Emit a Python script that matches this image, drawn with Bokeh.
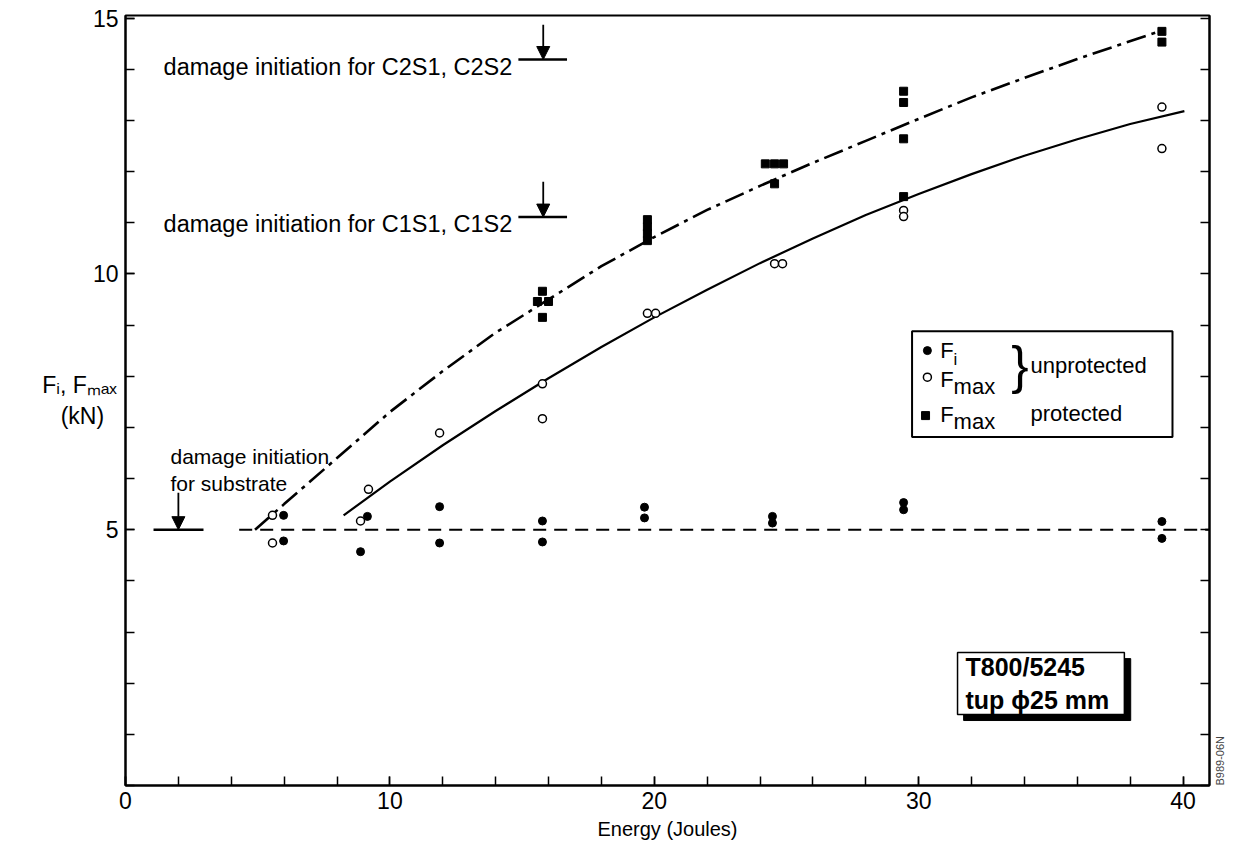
import math
from bokeh.plotting import figure
from bokeh.models import (Range1d, FixedTicker, LinearAxis, Label, BoxAnnotation,
                          Arrow, NormalHead)
from bokeh.embed import file_html
from bokeh.resources import INLINE

FONT = "Liberation Sans"

# ---------------- data ----------------
# F_i, unprotected (filled circles)
fi_energy = [5.98, 5.98, 8.89, 9.15, 11.88, 11.88, 15.77, 15.77, 19.63, 19.63,
             24.47, 24.47, 29.43, 29.43, 39.2, 39.2]
fi_force = [5.28, 4.78, 4.57, 5.26, 5.45, 4.74, 5.17, 4.76, 5.44, 5.23,
            5.26, 5.13, 5.53, 5.39, 5.16, 4.83]

# F_max, unprotected (open circles)
fmax_u_energy = [5.56, 5.56, 9.19, 8.89, 11.88, 15.77, 15.77, 19.74, 20.05,
                 24.55, 24.85, 29.43, 29.43, 39.2, 39.2]
fmax_u_force = [5.28, 4.74, 5.79, 5.17, 6.89, 7.85, 7.17, 9.23, 9.23,
                10.2, 10.2, 11.24, 11.12, 13.26, 12.45]

# F_max, protected (filled squares)
fmax_p_energy = [15.77, 15.58, 16.0, 15.77, 19.74, 19.74, 19.74, 19.74,
                 24.2, 24.55, 24.89, 24.55, 29.43, 29.43, 29.43, 29.43, 39.2, 39.2]
fmax_p_force = [9.66, 9.46, 9.46, 9.15, 11.06, 10.92, 10.79, 10.65,
                12.15, 12.15, 12.15, 11.76, 13.57, 13.35, 12.64, 11.51, 14.74, 14.53]

# fitted trend curves
curve_unprot_energy = [8.25, 10, 12, 14, 16, 18, 20, 22, 24, 26, 28, 30, 32, 34, 36, 38, 40.05]
curve_unprot_force = [5.28, 5.94, 6.65, 7.32, 7.96, 8.57, 9.15, 9.69, 10.21, 10.69,
                      11.15, 11.56, 11.95, 12.31, 12.63, 12.93, 13.18]
curve_prot_energy = [4.9, 6, 8, 10, 12, 14, 16, 18, 20, 22, 24, 26, 28, 30, 32, 34, 36, 39.1]
curve_prot_force = [5.0, 5.5, 6.4, 7.3, 8.1, 8.85, 9.5, 10.15, 10.72, 11.25, 11.72,
                    12.17, 12.6, 13.03, 13.45, 13.83, 14.2, 14.74]
threshold_energy = [4.3, 41.0]
threshold_force = [5.0, 5.0]

# axes
x_major = [0, 10, 20, 30, 40]
x_minor = list(range(0, 42, 2))
y_major = [5, 10, 15]
y_minor = list(range(0, 16))
x_title = "Energy (Joules)"
y_title = "Fᵢ, Fₘₐₓ\n(kN)\u00a0\u00a0"
figure_id = "B989-06N"

# damage-initiation annotations
annot_texts = ["damage initiation for C2S1, C2S2", "damage initiation for C1S1, C1S2"]
annot_text_x = [1.44, 1.44]
annot_text_y = [14.05, 10.97]
bar_x0 = [14.86, 14.86, 1.06]
bar_x1 = [16.7, 16.7, 2.95]
bar_y = [14.19, 11.11, 5.0]
arrow_x = [15.8, 15.8, 2.0]
arrow_top = [14.87, 11.80, 5.72]
arrow_tip = [14.19, 11.11, 5.0]
sub_texts = ["damage initiation", "for substrate"]
sub_text_x = [1.70, 1.70]
sub_text_y = [6.44, 5.91]

# ---------------- figure ----------------
p = figure(width=1237, height=852, x_range=Range1d(0, 41), y_range=Range1d(0, 15.05),
           output_backend="svg", toolbar_location=None,
           min_border_left=125, min_border_right=28, min_border_top=15, min_border_bottom=67)
p.xgrid.visible = False
p.ygrid.visible = False
p.outline_line_color = "black"
p.outline_line_width = 2
p.background_fill_color = "white"
p.border_fill_color = "white"

for ax in (p.xaxis[0], p.yaxis[0]):
    ax.axis_line_width = 2
    ax.axis_line_color = "black"
    ax.major_tick_in = 9
    ax.major_tick_out = 0
    ax.minor_tick_in = 9
    ax.minor_tick_out = 0
    ax.major_tick_line_width = 1.5
    ax.minor_tick_line_width = 1.5
    ax.major_tick_line_color = "black"
    ax.minor_tick_line_color = "black"
    ax.major_label_text_font = FONT
    ax.major_label_text_font_size = "23px"
    ax.major_label_text_color = "black"
    ax.axis_label_text_font = FONT
    ax.axis_label_text_font_style = "normal"
    ax.axis_label_text_color = "black"

p.xaxis.ticker = FixedTicker(ticks=x_major, minor_ticks=x_minor)
p.yaxis.ticker = FixedTicker(ticks=y_major, minor_ticks=y_minor)
p.xaxis.major_label_standoff = 6
p.yaxis.major_label_standoff = 7

p.xaxis.axis_label = x_title
p.xaxis.axis_label_text_font_size = "20px"
p.xaxis.axis_label_standoff = 6

p.yaxis.axis_label = y_title
p.yaxis.axis_label_text_font_size = "23px"
p.yaxis.axis_label_orientation = "horizontal"
p.yaxis.axis_label_text_align = "center"
p.yaxis.axis_label_standoff = -27

right = LinearAxis(ticker=FixedTicker(ticks=[], minor_ticks=y_minor))
right.axis_line_width = 2
right.minor_tick_in = 9
right.minor_tick_out = 0
right.minor_tick_line_width = 1.5
right.major_tick_in = 0
right.major_tick_out = 0
right.major_label_text_font_size = "0px"
p.add_layout(right, "right")

id_axis = LinearAxis(ticker=FixedTicker(ticks=[]))
id_axis.axis_line_alpha = 0
id_axis.major_tick_in = 0
id_axis.major_tick_out = 0
id_axis.minor_tick_in = 0
id_axis.minor_tick_out = 0
id_axis.major_label_text_font_size = "0px"
id_axis.axis_label = figure_id
id_axis.axis_label_text_font = FONT
id_axis.axis_label_text_font_size = "11px"
id_axis.axis_label_text_font_style = "normal"
id_axis.axis_label_standoff = 10
id_axis.axis_label_orientation = math.pi / 2
id_axis.axis_label_align = "start"
p.add_layout(id_axis, "right")

# ---------------- lines ----------------
p.line(threshold_energy, threshold_force, line_color="black", line_width=2, line_dash="13 8")
p.line(curve_unprot_energy, curve_unprot_force, line_color="black", line_width=2.2)
p.line(curve_prot_energy, curve_prot_force, line_color="black", line_width=2.6,
       line_dash="20 6 4 6")

# ---------------- markers ----------------
p.scatter(fi_energy, fi_force, marker="circle", size=8, fill_color="black", line_color="black")
p.scatter(fmax_u_energy, fmax_u_force, marker="circle", size=8, fill_color="white",
          line_color="black", line_width=1.5)
p.scatter(fmax_p_energy, fmax_p_force, marker="square", size=8, fill_color="black",
          line_color="black")

# ---------------- annotations ----------------
p.segment(x0=bar_x0, y0=bar_y, x1=bar_x1, y1=bar_y, line_color="black", line_width=2.5)
for ax_, top_, tip_ in zip(arrow_x, arrow_top, arrow_tip):
    p.add_layout(Arrow(x_start=ax_, y_start=top_, x_end=ax_, y_end=tip_, line_width=1.8,
                       line_color="black",
                       end=NormalHead(size=13, fill_color="black", line_color="black")))


def lab(x, y, text, size="22px", align="left", baseline="middle", style="normal"):
    p.add_layout(Label(x=x, y=y, text=text, text_font=FONT, text_font_size=size,
                       text_align=align, text_baseline=baseline, text_font_style=style,
                       text_color="black"))


for t, x, y in zip(annot_texts, annot_text_x, annot_text_y):
    lab(x, y, t, size="23.5px", baseline="alphabetic")
for t, x, y in zip(sub_texts, sub_text_x, sub_text_y):
    lab(x, y, t, size="21px", baseline="alphabetic")

# legend box
p.add_layout(BoxAnnotation(left=29.75, right=39.6, bottom=6.81, top=8.88,
                           fill_color="white", fill_alpha=1.0, line_color="black",
                           line_alpha=1.0, line_width=2))
legend_marker_x = [30.33, 30.33, 30.26]
legend_marker_y = [8.50, 7.98, 7.23]
p.scatter(legend_marker_x[0:1], legend_marker_y[0:1], marker="circle", size=8,
          fill_color="black", line_color="black", level="overlay")
p.scatter(legend_marker_x[1:2], legend_marker_y[1:2], marker="circle", size=8,
          fill_color="white", line_color="black", line_width=1.5, level="overlay")
p.scatter(legend_marker_x[2:3], legend_marker_y[2:3], marker="square", size=8,
          fill_color="black", line_color="black", level="overlay")
lab(30.82, 8.50, "F")
lab(31.32, 8.33, "i", size="17px")
lab(30.82, 7.94, "F")
lab(31.32, 7.80, "max")
lab(33.50, 8.22, "}", size="52px")
lab(34.23, 8.21, "unprotected")
lab(30.82, 7.25, "F")
lab(31.32, 7.11, "max")
lab(34.23, 7.27, "protected")

# material box with shadow
p.add_layout(BoxAnnotation(left=31.70, right=38.02, bottom=1.27, top=2.48,
                           fill_color="black", fill_alpha=1.0, line_color="black",
                           line_alpha=1.0))
p.add_layout(BoxAnnotation(left=31.47, right=37.78, bottom=1.39, top=2.60,
                           fill_color="white", fill_alpha=1.0, line_color="black",
                           line_alpha=1.0, line_width=1.5))
lab(31.77, 2.31, "T800/5245", size="25px", style="bold")
lab(31.77, 1.67, "tup  ϕ25 mm", size="25px", style="bold")

open("out.html", "w").write(file_html(p, INLINE))
